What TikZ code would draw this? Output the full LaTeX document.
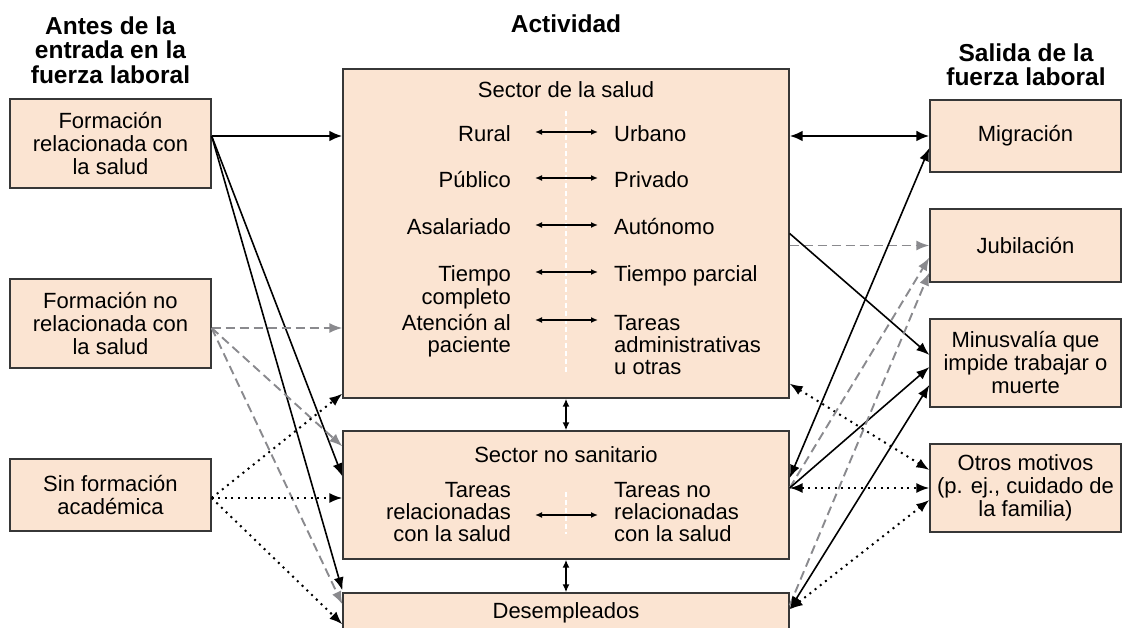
\documentclass[tikz,border=0pt]{standalone}
\usepackage{fontspec}
\setmainfont{Liberation Sans}
\usetikzlibrary{arrows.meta,calc}

\definecolor{peach}{RGB}{251,228,210}
\definecolor{boxline}{RGB}{55,55,55}
\definecolor{dashgray}{RGB}{138,138,142}

\tikzset{
	box/.style={draw=boxline, line width=1.3pt, fill=peach, align=center, inner sep=0pt,
		font=\fontsize{22}{23}\selectfont},
	head/.style={font=\fontsize{24.5}{24.5}\selectfont\bfseries, align=center, inner sep=0pt},
	txt/.style={font=\fontsize{22}{22.3}\selectfont, inner sep=0pt},
	thickarr/.style={line width=2.6pt, -{Latex[length=13pt,width=11pt]}},
	thickpair/.style={line width=2.6pt, {Latex[length=13pt,width=11pt]}-{Latex[length=13pt,width=11pt]}},
	thinarr/.style={line width=1.6pt, -{Latex[length=13pt,width=10pt]}},
	thinpair/.style={line width=1.6pt, {Latex[length=13pt,width=10pt]}-{Latex[length=13pt,width=10pt]}},
	grayarr/.style={draw=dashgray, line width=1.9pt, dash pattern=on 9pt off 5pt,
		-{Latex[length=13pt,width=10pt]}},
	dotarr/.style={line width=2pt, dash pattern=on 2pt off 4.6pt,
		-{Latex[length=13pt,width=10pt]}},
	dotpair/.style={line width=2pt, dash pattern=on 2pt off 4.6pt,
		{Latex[length=13pt,width=10pt]}-{Latex[length=13pt,width=10pt]}},
	pairarr/.style={line width=1.4pt, {Latex[length=7pt,width=6pt]}-{Latex[length=7pt,width=6pt]}},
	vpair/.style={line width=1.8pt, {Latex[length=8pt,width=7pt]}-{Latex[length=8pt,width=7pt]}},
	split/.style={draw=white, line width=1.8pt, dash pattern=on 5pt off 3pt}
}

\begin{document}
\begin{tikzpicture}[x=1pt,y=-1pt]
	\path[use as bounding box, clip] (0,0) rectangle (1124,628);

	\node[head] (hin) at (110.5,50) {Antes de la\\entrada en la\\fuerza laboral};
	\node[head] (hact) at (566,24) {Actividad};
	\node[head] (hout) at (1026,64.5) {Salida de la\\fuerza laboral};

	\node[box, minimum width=201pt, minimum height=89pt] (fr) at (110.5,143.5) {Formación\\relacionada con\\la salud};
	\node[box, minimum width=201pt, minimum height=89pt] (fn) at (110.5,323.5) {Formación no\\relacionada con\\la salud};
	\node[box, minimum width=201pt, minimum height=72pt] (sf) at (110.5,495) {Sin formación\\académica};

	\node[box, minimum width=446pt, minimum height=329pt] (hs) at (566,233.5) {};
	\node[box, minimum width=446pt, minimum height=128pt] (ns) at (566,495) {};
	\node[box, minimum width=446pt, minimum height=67pt] (de) at (566,626.5) {};

	\node[box, minimum width=191pt, minimum height=72pt] (mi) at (1025.5,136) {Migración};
	\node[box, minimum width=191pt, minimum height=73pt] (ju) at (1025.5,245.5) {Jubilación};
	\node[box, minimum width=191pt, minimum height=88pt] (mu) at (1025.5,363) {Minusvalía que\\impide trabajar o\\muerte};
	\node[box, minimum width=191pt, minimum height=88pt] (ot) at (1025.5,488) {Otros motivos\\(p. ej., cuidado de\\la familia)};

	\draw[split] ([yshift=-43pt]hs.north) -- ([yshift=26pt]hs.south);
	\draw[split] ([yshift=-62pt]ns.north) -- ([yshift=26pt]ns.south);

	\node[txt, anchor=base] (hst) at (566,98) {Sector de la salud};
	\node[txt, anchor=base east] (ru) at (511,142) {Rural};
	\node[txt, anchor=base west] (ur) at (614,142) {Urbano};
	\node[txt, anchor=base east] (pu) at (511,188) {Público};
	\node[txt, anchor=base west] (pr) at (614,188) {Privado};
	\node[txt, anchor=base east] (as) at (511,235) {Asalariado};
	\node[txt, anchor=base west] (au) at (614,235) {Autónomo};
	\node[txt, anchor=base east, align=right] (tc) at (511,304.3) {Tiempo\\completo};
	\node[txt, anchor=base west] (tp) at (614,282) {Tiempo parcial};
	\node[txt, anchor=base east, align=right] (ap) at (511,352.3) {Atención al\\paciente};
	\node[txt, anchor=base west, align=left] (ta) at (614,374.6) {Tareas\\administrativas\\u otras};

	\draw[pairarr] ([shift={(24pt,10pt)}]ru.base east) -- ([shift={(-16pt,10pt)}]ur.base west);
	\draw[pairarr] ([shift={(24pt,10pt)}]pu.base east) -- ([shift={(-16pt,10pt)}]pr.base west);
	\draw[pairarr] ([shift={(24pt,10pt)}]as.base east) -- ([shift={(-16pt,10pt)}]au.base west);
	\draw[pairarr] ([shift={(24pt,32.3pt)}]tc.base east) -- ([shift={(-16pt,10pt)}]tp.base west);
	\draw[pairarr] ([shift={(24pt,32.3pt)}]ap.base east) -- ([shift={(-16pt,54.6pt)}]ta.base west);

	\node[txt, anchor=base] (nst) at (566,462) {Sector no sanitario};
	\node[txt, anchor=base east, align=right] (trs) at (511,541.6) {Tareas\\relacionadas\\con la salud};
	\node[txt, anchor=base west, align=left] (tns) at (614,541.6) {Tareas no\\relacionadas\\con la salud};
	\draw[pairarr] ([shift={(24pt,26.6pt)}]trs.base east) -- ([shift={(-16pt,26.6pt)}]tns.base west);

	\node[txt, anchor=base] (det) at (566,618) {Desempleados};

	\draw[vpair] (hs.south) -- (ns.north);
	\draw[vpair] (ns.south) -- (de.north);

	\coordinate (frout) at ([yshift=7.5pt]fr.east);
	\coordinate (fnout) at ([yshift=-4.5pt]fn.east);
	\coordinate (sfout) at ([yshift=-3pt]sf.east);
	\coordinate (nsout) at ([yshift=7pt]ns.east);
	\coordinate (deout) at ([yshift=-17pt]de.north east);

	\draw[thickarr] (frout) -- (hs.west |- frout);
	\draw[thinarr] (frout) -- ([yshift=-46pt]ns.north west);
	\draw[thinarr] (frout) -- ([yshift=2pt]de.north west);
	\draw[grayarr] (fnout) -- (hs.west |- fnout);
	\draw[grayarr] (fnout) -- ([yshift=-16pt]ns.north west);
	\draw[grayarr] (fnout) -- ([yshift=-12pt]de.north west);
	\draw[dotarr] (sfout) -- ([yshift=5pt]hs.south west);
	\draw[dotarr] (sfout) -- (ns.west |- sfout);
	\draw[dotarr] (sfout) -- ([yshift=-32pt]de.north west);

	\draw[thickpair] (hs.east |- mi.west) -- (mi.west);
	\draw[grayarr] (hs.east |- ju.west) -- (ju.west);
	\draw[thinarr] (hs.east) -- ([yshift=8pt]mu.west);
	\draw[dotpair] ([yshift=15pt]hs.south east) -- ([yshift=18pt]ot.west);
	\draw[thinpair] ([yshift=17pt]ns.east) -- ([yshift=-12pt]mi.west);
	\draw[grayarr] (nsout) -- ([yshift=-12pt]ju.west);
	\draw[thinarr] (nsout) -- ([yshift=-4pt]mu.west);
	\draw[dotpair] (nsout) -- (ot.west |- nsout);
	\draw[grayarr] ([yshift=-13pt]de.north east) -- ([yshift=-27pt]ju.west);
	\draw[thinpair] (deout) -- ([yshift=-22pt]mu.west);
	\draw[dotpair] (deout) -- ([yshift=-12pt]ot.west);
\end{tikzpicture}
\end{document}
